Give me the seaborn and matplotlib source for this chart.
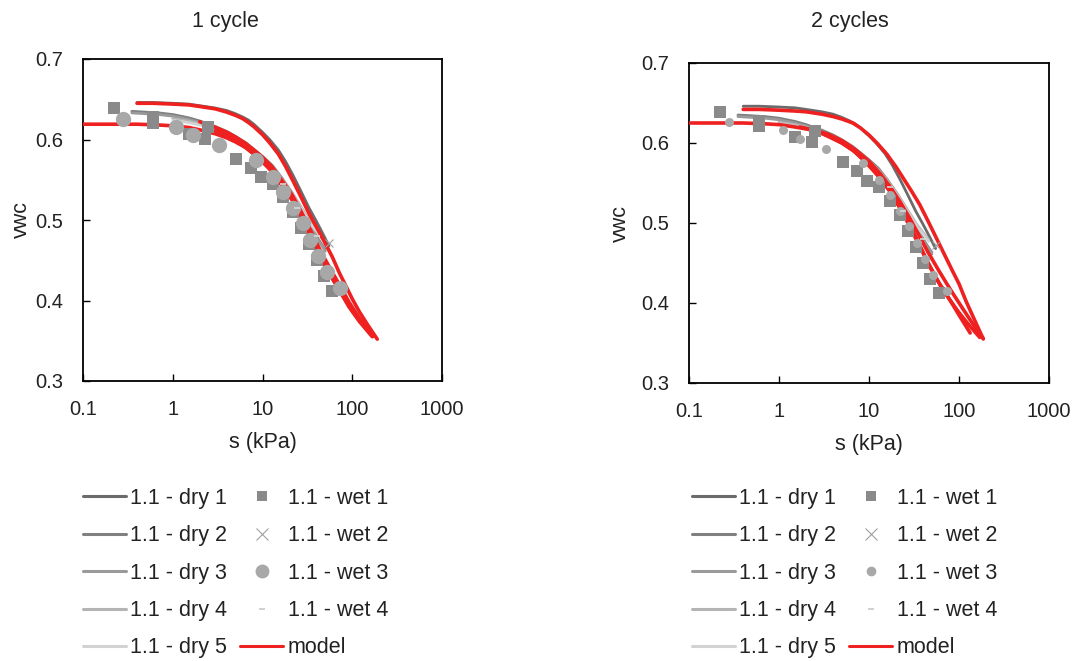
import numpy as np
import pandas as pd
import matplotlib
matplotlib.use("Agg")
import matplotlib.pyplot as plt
from matplotlib.lines import Line2D
import seaborn as sns

# ---------------- data ----------------
# drying curves (shared by both panels)
dry1_s = [0.4, 0.6, 1, 1.5, 2, 3, 4, 5, 6, 7, 8, 10, 12, 15, 18, 22, 27, 33, 40, 47, 55]
dry1_v = [0.646, 0.646, 0.645, 0.644, 0.642, 0.639, 0.636, 0.632, 0.628, 0.624, 0.619, 0.609,
          0.600, 0.587, 0.573, 0.555, 0.535, 0.515, 0.498, 0.483, 0.468]
dry2_s = [0.35, 0.5, 0.7, 1, 1.5, 2, 2.5, 3, 4, 5, 6.5, 8, 10, 12.8, 16, 21, 27, 34, 42, 50]
dry2_v = [0.635, 0.634, 0.633, 0.631, 0.627, 0.623, 0.619, 0.616, 0.610, 0.604, 0.596, 0.588,
          0.579, 0.568, 0.554, 0.535, 0.514, 0.494, 0.476, 0.463]
dry3_s = [0.35, 0.5, 0.7, 1, 1.5, 2, 2.5, 3, 4, 5, 6.5, 8, 10, 12.8, 16, 21, 27, 34, 42, 50]
dry3_v = [0.633, 0.632, 0.631, 0.629, 0.625, 0.621, 0.617, 0.614, 0.608, 0.602, 0.594, 0.586,
          0.577, 0.566, 0.552, 0.533, 0.512, 0.492, 0.475, 0.461]
dry4_s = [1, 1.5, 2, 3, 4, 5, 6.5, 8, 10, 12.8, 16, 21, 27, 34, 46]
dry4_v = [0.626, 0.623, 0.620, 0.614, 0.608, 0.602, 0.594, 0.586, 0.577, 0.566, 0.553, 0.535,
          0.516, 0.498, 0.479]
dry5_s = [1, 1.5, 2, 3, 4, 5, 6.5, 8, 10, 12.8, 16, 21, 27, 34, 46]
dry5_v = [0.624, 0.621, 0.618, 0.612, 0.606, 0.600, 0.592, 0.584, 0.575, 0.564, 0.551, 0.533,
          0.514, 0.496, 0.477]

# wetting points (shared)
wet1_s = [0.22, 0.6, 0.6, 1.5, 2.5, 2.3, 5.1, 7.4, 9.6, 13, 17, 22, 27, 33, 40, 48, 60]
wet1_v = [0.639, 0.628, 0.621, 0.607, 0.615, 0.601, 0.576, 0.565, 0.553, 0.545, 0.528,
          0.510, 0.490, 0.470, 0.450, 0.430, 0.412]
wet2_s = [55]
wet2_v = [0.472]
wet3_s = [0.28, 1.1, 1.7, 3.3, 8.5, 13, 17, 22, 28, 34, 42, 52, 73]
wet3_v = [0.626, 0.616, 0.605, 0.593, 0.575, 0.554, 0.535, 0.515, 0.496, 0.475, 0.455,
          0.435, 0.415]
wet4_s = [17, 24, 40]
wet4_v = [0.545, 0.515, 0.480]

# model curves, panel "1 cycle"
m1a_s = [0.4, 0.6, 1, 1.5, 2, 3, 4, 5, 6, 7, 8, 10, 12, 15, 18, 22, 27, 33, 40, 50, 60, 72,
         85, 100, 120, 150, 190]
m1a_v = [0.645, 0.645, 0.644, 0.643, 0.641, 0.638, 0.634, 0.630, 0.626, 0.621, 0.616, 0.606,
         0.596, 0.582, 0.567, 0.548, 0.528, 0.508, 0.491, 0.471, 0.454, 0.434, 0.418, 0.402,
         0.386, 0.369, 0.352]
m1b_s = [0.1, 0.2, 0.4, 0.7, 1, 1.5, 2, 3, 4, 5, 6.5, 8, 10, 12.8, 16, 21.4, 28, 35.7, 45, 60,
         75, 92, 120, 167]
m1b_v = [0.619, 0.619, 0.619, 0.618, 0.617, 0.615, 0.612, 0.607, 0.602, 0.597, 0.590, 0.582,
         0.573, 0.561, 0.545, 0.525, 0.500, 0.475, 0.452, 0.427, 0.409, 0.392, 0.374, 0.355]
m1c_s = [2, 2.5, 3, 4, 5, 6.5, 8, 10, 12.8, 16, 21.4, 28, 35.7, 45, 60, 75, 92, 120, 175]
m1c_v = [0.622, 0.618, 0.615, 0.609, 0.603, 0.595, 0.587, 0.578, 0.566, 0.551, 0.531, 0.507,
         0.483, 0.460, 0.435, 0.416, 0.398, 0.378, 0.356]
m1d_s = [3, 4, 5, 6.5, 8, 10, 12.8, 16, 21.4, 28, 35.7, 45, 60, 75, 92, 120, 170]
m1d_v = [0.611, 0.605, 0.599, 0.590, 0.582, 0.572, 0.560, 0.545, 0.525, 0.501, 0.478, 0.455,
         0.431, 0.412, 0.395, 0.376, 0.356]

# model curves, panel "2 cycles"
m2a_s = [0.4, 0.6, 1, 1.5, 2, 3, 4, 5, 6.6, 8, 10, 12.5, 15.8, 20, 25, 30, 36.6, 45, 55, 70,
         85.6, 100, 120, 150, 186]
m2a_v = [0.642, 0.642, 0.641, 0.640, 0.639, 0.636, 0.633, 0.630, 0.625, 0.619, 0.610, 0.599,
         0.586, 0.570, 0.553, 0.539, 0.523, 0.503, 0.483, 0.459, 0.439, 0.424, 0.402, 0.378,
         0.355]
m2b_s = [0.1, 0.2, 0.4, 0.7, 1, 1.5, 2.4, 3.5, 5, 6.6, 8.5, 10.5, 13.3, 17, 21, 26.5, 33, 40,
         47.5, 60, 79, 100, 130, 170]
m2b_v = [0.625, 0.625, 0.625, 0.624, 0.623, 0.620, 0.616, 0.609, 0.600, 0.591, 0.580, 0.569,
         0.557, 0.540, 0.523, 0.504, 0.483, 0.463, 0.445, 0.425, 0.404, 0.388, 0.372, 0.357]
m2c_s = [1.7, 2.5, 3.5, 5, 7, 10, 13, 17, 22, 28, 35, 45, 60, 80, 110, 150, 185]
m2c_v = [0.620, 0.616, 0.611, 0.603, 0.592, 0.577, 0.563, 0.546, 0.527, 0.507, 0.487, 0.464,
         0.440, 0.417, 0.393, 0.370, 0.356]
m2d_s = [3, 5, 7, 10, 13, 17, 22, 28, 35, 45, 60, 80, 100, 133]
m2d_v = [0.612, 0.600, 0.589, 0.572, 0.557, 0.540, 0.519, 0.497, 0.475, 0.451, 0.425, 0.403,
         0.385, 0.3625]

titles = ["1 cycle", "2 cycles"]
xticks = [0.1, 1, 10, 100, 1000]
xticklabels = ["0.1", "1", "10", "100", "1000"]
yticks = [0.3, 0.4, 0.5, 0.6, 0.7]
yticklabels = ["0.3", "0.4", "0.5", "0.6", "0.7"]
dry_labels = ["1.1 - dry 1", "1.1 - dry 2", "1.1 - dry 3", "1.1 - dry 4", "1.1 - dry 5"]
wet_labels = ["1.1 - wet 1", "1.1 - wet 2", "1.1 - wet 3", "1.1 - wet 4"]

# ---------------- style ----------------
sns.set_theme(style="white")
plt.rcParams["font.family"] = ["Liberation Sans", "DejaVu Sans"]

dry_colors = ["#6b6b6b", "#808080", "#9a9a9a", "#b4b4b4", "#d2d2d2"]
red = "#ee2020"
sq_color = "#8a8a8a"
circ_color = "#a8a8a8"
txt = "#222222"

fig = plt.figure(figsize=(10.8, 6.61), dpi=100)
ax_pos = [[83 / 1080, 1 - 381 / 661, 359 / 1080, 322 / 661],
          [689 / 1080, 1 - 383 / 661, 360 / 1080, 320 / 661]]

dry = [(dry1_s, dry1_v), (dry2_s, dry2_v), (dry3_s, dry3_v), (dry4_s, dry4_v), (dry5_s, dry5_v)]
models = [[(m1a_s, m1a_v), (m1b_s, m1b_v), (m1c_s, m1c_v), (m1d_s, m1d_v)],
          [(m2a_s, m2a_v), (m2b_s, m2b_v), (m2c_s, m2c_v), (m2d_s, m2d_v)]]
circ_size = [11, 6.5]
title_x = [225 / 1080, 850 / 1080]
legend_x = [83 / 1080, 692 / 1080]
ylabel_x = [-0.142, -0.161]

for p in range(2):
    ax = fig.add_axes(ax_pos[p])
    # drying lines (under the model)
    for (s, v), c in zip(dry, dry_colors):
        df = pd.DataFrame({"s": s, "vwc": v})
        sns.lineplot(data=df, x="s", y="vwc", ax=ax, color=c, lw=2.0,
                     sort=False, estimator=None, zorder=2)
    # model lines (red)
    for s, v in models[p]:
        df = pd.DataFrame({"s": s, "vwc": v})
        sns.lineplot(data=df, x="s", y="vwc", ax=ax, color=red, lw=2.6,
                     sort=False, estimator=None, zorder=3)
    # wetting points
    ax.plot(wet1_s, wet1_v, ls="none", marker="s", ms=8, color=sq_color, mew=0, zorder=4)
    ax.plot(wet2_s, wet2_v, ls="none", marker="x", ms=6, color="#a0a0a0", mew=0.8, zorder=4)
    ax.plot(wet3_s, wet3_v, ls="none", marker="o", ms=circ_size[p], color=circ_color, mew=0, zorder=5)
    ax.plot(wet4_s, wet4_v, ls="none", marker="_", ms=5, color="#d8d8d8", mew=1.2, zorder=6)

    ax.set_xscale("log")
    ax.set_xlim(0.1, 1000)
    ax.set_ylim(0.3, 0.7)
    ax.set_xticks(xticks)
    ax.set_xticklabels(xticklabels)
    ax.set_yticks(yticks)
    ax.set_yticklabels(yticklabels)
    ax.minorticks_off()
    ax.tick_params(axis="both", direction="in", length=5, width=1, color="black",
                   labelsize=14.5, labelcolor=txt, left=True, bottom=True)
    ax.tick_params(axis="x", pad=14)
    ax.tick_params(axis="y", pad=14)
    for sp in ax.spines.values():
        sp.set_visible(True)
        sp.set_color("black")
        sp.set_linewidth(1.3)
    ax.set_xlabel("s (kPa)", fontsize=15.5, labelpad=9, color=txt)
    ax.set_ylabel("vwc", fontsize=15.5, color=txt)
    ax.yaxis.set_label_coords(ylabel_x[p], 0.5)
    ax.grid(False)

    fig.text(title_x[p], 1 - 21 / 661, titles[p], ha="center", va="center",
             fontsize=15.5, color=txt)

    handles = []
    for c in dry_colors:
        handles.append(Line2D([], [], color=c, lw=2.2))
    handles.append(Line2D([], [], ls="none", marker="s", ms=7, color=sq_color, mew=0))
    handles.append(Line2D([], [], ls="none", marker="x", ms=9, color="#a0a0a0", mew=0.8))
    handles.append(Line2D([], [], ls="none", marker="o", ms=[10, 7][p], color=circ_color, mew=0))
    handles.append(Line2D([], [], ls="none", marker="_", ms=5, color="#c8c8c8", mew=1.2))
    handles.append(Line2D([], [], color=red, lw=2.2))
    labels = dry_labels + wet_labels + ["model"]
    fig.legend(handles, labels, loc="upper left", bbox_to_anchor=(legend_x[p], 1 - 488 / 661),
               ncol=2, frameon=False, fontsize=15.5, handlelength=2.0, handletextpad=0.2,
               columnspacing=0.6, labelspacing=0.76, borderpad=0, borderaxespad=0,
               labelcolor=txt)

fig.savefig("out.png", dpi=100, facecolor="white")
